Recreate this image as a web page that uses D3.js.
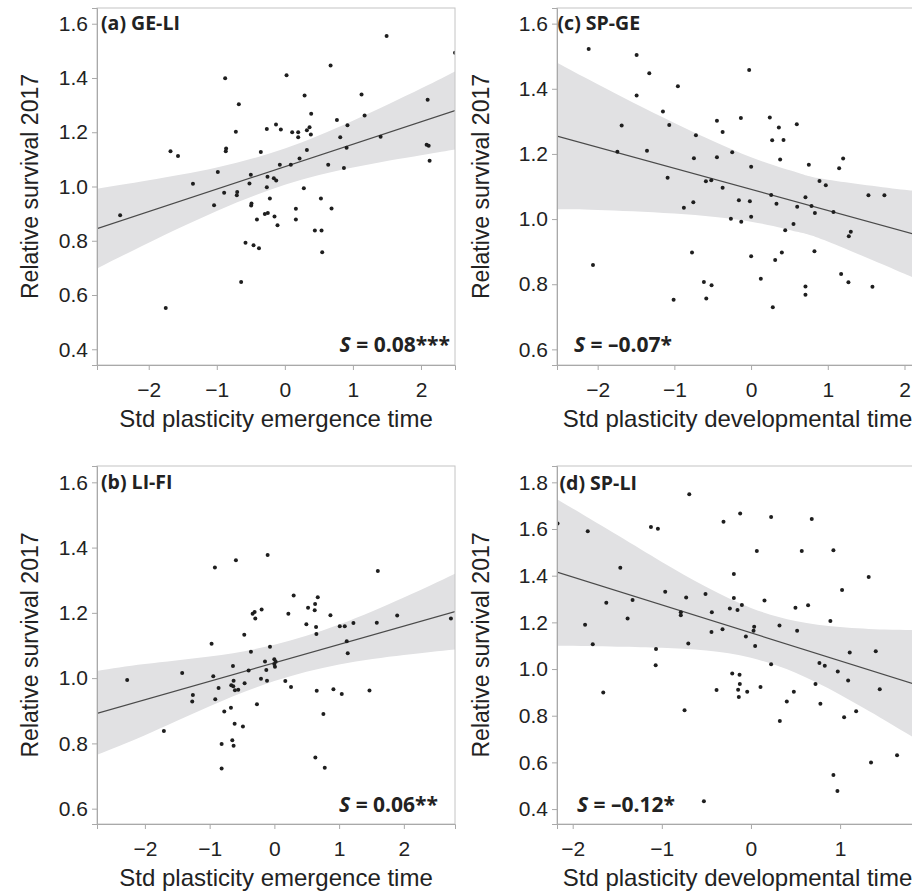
<!DOCTYPE html>
<html>
<head>
<meta charset="utf-8">
<script src="https://cdn.jsdelivr.net/npm/d3@7"></script>
<style>
  html, body { margin: 0; padding: 0; background: #ffffff; }
  svg { display: block; }
</style>
</head>
<body>
<svg id="fig" width="912" height="893"></svg>
<script>
// ---- Panel labels and selection differentials ----
const panelTitles = ["(a) GE-LI", "(b) LI-FI", "(c) SP-GE", "(d) SP-LI"];
const selectionLabels = ["0.08***", "0.06**", "\u20130.07*", "\u20130.12*"];
const xAxisTitles = [
  "Std plasticity emergence time",
  "Std plasticity emergence time",
  "Std plasticity developmental time",
  "Std plasticity developmental time"
];
const yAxisTitle = "Relative survival 2017";

// ---- Axis extents and tick values ----
const xExtentA = [-2.76, 2.50], yExtentA = [0.342, 1.658];
const xExtentB = [-2.74, 2.79], yExtentB = [0.553, 1.650];
const xExtentC = [-2.53, 2.176], yExtentC = [0.552, 1.648];
const xExtentD = [-2.176, 1.874], yExtentD = [0.336, 1.870];

const xTicksA = [-2, -1, 0, 1, 2];
const xTicksB = [-2, -1, 0, 1, 2];
const xTicksC = [-2, -1, 0, 1, 2];
const xTicksD = [-2, -1, 0, 1];
const yTicksA = [0.4, 0.6, 0.8, 1.0, 1.2, 1.4, 1.6];
const yTicksB = [0.6, 0.8, 1.0, 1.2, 1.4, 1.6];
const yTicksC = [0.6, 0.8, 1.0, 1.2, 1.4, 1.6];
const yTicksD = [0.4, 0.6, 0.8, 1.0, 1.2, 1.4, 1.6, 1.8];

// ---- Observations: [standardised plasticity, relative survival] ----
const pointsGeLi = [
  [-2.42,0.894],[-1.68,1.130],[-1.57,1.112],[-1.35,1.010],[-1.75,0.552],[-0.985,1.053],
  [-1.04,0.931],[-0.877,1.399],[-0.863,1.140],[-0.868,1.130],[-0.892,0.977],[-0.676,1.303],
  [-0.72,1.202],[-0.70,0.980],[-0.706,0.968],[-0.642,0.648],[-0.578,0.793],[-0.46,0.783],
  [-0.38,0.772],[-0.50,1.043],[-0.52,1.011],[-0.49,0.937],[-0.495,0.930],[-0.41,0.878],
  [-0.353,1.127],[-0.265,1.212],[-0.255,1.036],[-0.265,0.997],[-0.22,0.956],[-0.294,0.899],
  [-0.25,0.902],[-0.162,1.030],[-0.152,0.889],[-0.127,1.022],
  [1.495,1.555],[2.5,1.493],[0.672,1.446],[0.025,1.410],[0.29,1.335],[1.127,1.339],
  [1.172,1.262],[2.098,1.320],[0.387,1.268],[-0.13,1.229],[-0.059,1.210],[0.108,1.200],
  [0.196,1.200],[0.196,1.182],[0.324,1.207],[0.363,1.218],[0.382,1.192],[0.765,1.245],
  [0.92,1.226],[0.814,1.182],[1.407,1.183],[0.907,1.143],[0.324,1.135],[0.216,1.103],
  [0.088,1.080],[-0.074,1.080],[0.637,1.080],[0.868,1.068],[2.083,1.154],[2.113,1.150],
  [2.127,1.095],[0.279,0.994],[0.53,0.956],[0.162,0.918],[0.162,0.878],[0.686,0.919],
  [-0.108,0.857],[0.441,0.838],[0.539,0.838],[0.549,0.758]
];
const pointsLiFi = [
  [-2.274,0.994],[-1.707,0.838],[-1.424,1.016],[-1.259,0.948],[-1.269,0.928],[-0.919,1.339],
  [-0.594,1.361],[-0.970,1.105],[-0.944,1.006],[-0.862,0.970],[-0.913,0.935],[-0.774,0.898],
  [-0.815,0.798],[-0.815,0.723],[-0.640,1.037],[-0.630,0.992],[-0.666,0.978],[-0.635,0.975],
  [-0.609,0.963],[-0.558,0.964],[-0.671,0.909],[-0.614,0.860],[-0.650,0.810],[-0.630,0.793],
  [-0.486,0.852],[-0.465,1.133],[-0.460,0.984],[-0.398,1.023],[-0.362,1.081],[-0.336,1.197],
  [-0.305,1.203],[-0.295,1.183],[-0.197,1.210],[-0.269,0.920],[-0.207,0.998],[-0.145,1.051],
  [-0.125,1.025],[-0.114,0.992],[-0.104,1.377],[-0.068,1.096],
  [-0.001,1.058],[0.020,1.050],[-0.001,1.043],[0.009,1.035],[0.298,1.253],[0.216,1.197],
  [0.520,1.216],[0.629,1.227],[0.623,1.208],[0.670,1.248],[0.494,1.165],[0.644,1.157],
  [0.649,1.135],[0.866,1.193],[1.010,1.159],[1.087,1.159],[1.221,1.169],[1.118,1.113],
  [1.133,1.076],[1.598,1.328],[1.582,1.170],[1.897,1.192],[2.727,1.183],[0.169,0.991],
  [0.257,0.973],[0.654,0.961],[0.912,0.966],[1.041,0.951],[1.469,0.962],[0.757,0.890],
  [0.633,0.757],[0.778,0.725]
];
const pointsSpGe = [
  [-2.117,1.522],[-1.492,1.504],[-1.327,1.448],[-1.492,1.379],[-0.954,1.408],[-1.149,1.330],
  [-1.067,1.289],[-1.687,1.287],[-1.743,1.207],[-1.357,1.210],[-0.719,1.257],[-0.445,1.302],
  [-0.371,1.267],[-0.745,1.187],[-0.445,1.190],[-1.088,1.127],[-0.589,1.116],[-0.519,1.119],
  [-0.371,1.096],[-0.876,1.035],[-0.753,1.052],[-0.770,0.897],[-2.061,0.859],[-1.010,0.752],
  [-0.615,0.807],[-0.515,0.797],[-0.584,0.756],
  [-0.025,1.458],[-0.133,1.310],[0.244,1.312],[0.362,1.281],[0.596,1.291],[0.275,1.242],
  [0.423,1.243],[-0.246,1.205],[0.379,1.183],[0.001,1.161],[0.753,1.167],[1.200,1.186],
  [1.148,1.156],[0.892,1.117],[0.974,1.104],[1.530,1.073],[1.738,1.073],[0.262,1.074],
  [0.709,1.067],[-0.159,1.058],[-0.016,1.055],[0.331,1.047],[0.601,1.038],[0.788,1.040],
  [0.832,1.019],[1.074,1.022],[-0.263,1.001],[-0.128,0.992],[0.001,1.007],[0.553,0.985],
  [0.445,0.966],[1.300,0.961],[1.274,0.947],[0.001,0.886],[0.401,0.897],[0.314,0.874],
  [0.826,0.901],[0.127,0.817],[1.174,0.831],[1.269,0.806],[0.709,0.793],[0.709,0.768],
  [1.582,0.792],[0.283,0.729]
];
const pointsSpLi = [
  [-2.17,1.624],[-1.831,1.590],[-0.692,1.749],[-1.122,1.609],[-1.044,1.601],[-0.308,1.631],
  [-1.466,1.434],[-0.962,1.331],[-1.328,1.296],[-1.623,1.284],[-0.727,1.306],[-0.510,1.321],
  [-0.787,1.243],[-0.787,1.230],[-0.439,1.243],[-1.384,1.217],[-1.861,1.190],[-0.443,1.159],
  [-0.319,1.171],[-1.775,1.106],[-1.065,1.086],[-0.703,1.109],[-1.069,1.016],[-1.657,0.899],
  [-0.386,0.910],[-0.745,0.823],[-0.528,0.434],
  [-0.121,1.667],[0.226,1.651],[0.682,1.643],[0.066,1.506],[0.570,1.506],[0.925,1.509],
  [-0.192,1.407],[1.321,1.394],[1.022,1.339],[0.152,1.294],[-0.192,1.304],[-0.237,1.259],
  [-0.151,1.253],[-0.102,1.274],[0.499,1.263],[0.641,1.273],[0.891,1.206],[0.320,1.187],
  [0.036,1.181],[0.029,1.164],[0.518,1.164],[-0.057,1.139],[0.047,1.099],[1.108,1.071],
  [1.400,1.076],[0.226,1.021],[0.768,1.026],[0.828,1.014],[0.974,0.989],[1.090,0.951],
  [0.724,0.936],[1.445,0.913],[-0.210,0.981],[-0.128,0.976],[-0.125,0.936],[-0.144,0.911],
  [-0.042,0.903],[0.107,0.923],[-0.136,0.880],[0.481,0.903],[0.402,0.861],[0.779,0.851],
  [1.045,0.793],[1.180,0.819],[0.324,0.777],[1.639,0.631],[1.347,0.600],[0.925,0.546],
  [0.970,0.477]
];

// ---- Fitted linear regressions: [intercept, slope] ----
const fitGeLi = [1.073, 0.0827];
const fitLiFi = [1.0465, 0.0564];
const fitSpGe = [1.091, -0.0648];
const fitSpLi = [1.155, -0.1198];

// ---- 95% confidence band of each fit: [x, lower, upper] ----
const bandGeLi = [
  [-2.76,0.698,0.992],[-2.0,0.793,1.023],[-1.0,0.910,1.070],[0.0,1.006,1.140],
  [1.0,1.070,1.242],[2.0,1.115,1.361],[2.5,1.136,1.424]
];
const bandLiFi = [
  [-2.74,0.765,1.022],[-2.0,0.825,1.043],[-1.0,0.914,1.066],[0.0,0.991,1.102],
  [1.0,1.042,1.164],[2.0,1.071,1.247],[2.79,1.088,1.320]
];
const bandSpGe = [
  [-2.53,1.030,1.480],[-2.0,1.028,1.414],[-1.0,1.017,1.295],[0.0,0.992,1.190],
  [0.6,0.961,1.143],[1.0,0.931,1.121],[2.0,0.832,1.090],[2.18,0.812,1.088]
];
const bandSpLi = [
  [-2.176,1.100,1.728],[-1.5,1.096,1.574],[-1.0,1.091,1.459],[-0.5,1.079,1.351],
  [0.0,1.048,1.262],[0.5,0.984,1.206],[1.0,0.890,1.180],[1.5,0.781,1.169],[1.874,0.695,1.167]
];

// ---- Assemble the four panels ----
const panels = [
  { title: panelTitles[0], s: selectionLabels[0], xTitle: xAxisTitles[0], pts: pointsGeLi, fit: fitGeLi, band: bandGeLi,
    xExt: xExtentA, yExt: yExtentA, xTicks: xTicksA, yTicks: yTicksA,
    box: { l: 97, t: 8, r: 455, b: 365 }, titlePos: [4, 22], sAlign: "end", sPos: [-5, -13], yTitleX: 38 },
  { title: panelTitles[1], s: selectionLabels[1], xTitle: xAxisTitles[1], pts: pointsLiFi, fit: fitLiFi, band: bandLiFi,
    xExt: xExtentB, yExt: yExtentB, xTicks: xTicksB, yTicks: yTicksB,
    box: { l: 97, t: 466, r: 455, b: 824 }, titlePos: [4, 23], sAlign: "end", sPos: [-17, -12], yTitleX: 38 },
  { title: panelTitles[2], s: selectionLabels[2], xTitle: xAxisTitles[2], pts: pointsSpGe, fit: fitSpGe, band: bandSpGe,
    xExt: xExtentC, yExt: yExtentC, xTicks: xTicksC, yTicks: yTicksC,
    box: { l: 557, t: 8, r: 918, b: 365 }, titlePos: [0.5, 22], sAlign: "start", sPos: [17, -13], yTitleX: 489 },
  { title: panelTitles[3], s: selectionLabels[3], xTitle: xAxisTitles[3], pts: pointsSpLi, fit: fitSpLi, band: bandSpLi,
    xExt: xExtentD, yExt: yExtentD, xTicks: xTicksD, yTicks: yTicksD,
    box: { l: 557, t: 466, r: 918, b: 824 }, titlePos: [2.5, 24], sAlign: "start", sPos: [20, -12], yTitleX: 489 }
];

const svg = d3.select("#fig");
const axisGrey = "#a9a9a9";
const inkColour = "#1e1e1e";
const tickFont = "'Liberation Sans', Arial, sans-serif";
const boldFont = "'Open Sans', 'Noto Sans', sans-serif";

panels.forEach((p, i) => {
  const { l, t, r, b } = p.box;
  const x = d3.scaleLinear().domain(p.xExt).range([l, r]);
  const y = d3.scaleLinear().domain(p.yExt).range([b, t]);
  const g = svg.append("g").attr("class", "panel");

  const clipId = "clip" + i;
  svg.append("clipPath").attr("id", clipId)
    .append("rect").attr("x", l).attr("y", t).attr("width", r - l).attr("height", b - t);
  const inner = g.append("g").attr("clip-path", `url(#${clipId})`);

  // confidence ribbon
  inner.append("path")
    .datum(p.band)
    .attr("fill", "#e1e1e3")
    .attr("d", d3.area()
      .x(d => x(d[0]))
      .y0(d => y(d[1]))
      .y1(d => y(d[2]))
      .curve(d3.curveNatural));

  // regression line across the axis range
  const [b0, b1] = p.fit;
  inner.append("path")
    .datum(p.xExt.map(v => [v, b0 + b1 * v]))
    .attr("fill", "none")
    .attr("stroke", "#4a4a4a")
    .attr("stroke-width", 1.2)
    .attr("d", d3.line().x(d => x(d[0])).y(d => y(d[1])));

  // observations
  inner.selectAll("circle")
    .data(p.pts)
    .join("circle")
    .attr("cx", d => x(d[0]))
    .attr("cy", d => y(d[1]))
    .attr("r", 2)
    .attr("fill", inkColour);

  // panel frame
  g.append("rect")
    .attr("x", l).attr("y", t).attr("width", r - l).attr("height", b - t)
    .attr("fill", "none").attr("stroke", "#c4c4c4").attr("stroke-width", 1);

  // axes
  const yAxis = g.append("g").attr("transform", `translate(${l},0)`)
    .call(d3.axisLeft(y).tickValues(p.yTicks).tickFormat(d3.format(".1f")).tickSize(5).tickPadding(4));
  const xAxis = g.append("g").attr("transform", `translate(0,${b})`)
    .call(d3.axisBottom(x).tickValues(p.xTicks).tickFormat(d3.format("d")).tickSize(5).tickPadding(12));
  [xAxis, yAxis].forEach(ax => {
    ax.select(".domain").attr("stroke", axisGrey);
    ax.selectAll(".tick line").attr("stroke", axisGrey);
    ax.selectAll(".tick text")
      .attr("fill", "#222")
      .style("font-family", tickFont)
      .style("font-size", "21px");
  });

  // panel title
  g.append("text")
    .attr("x", l + p.titlePos[0]).attr("y", t + p.titlePos[1])
    .style("font-family", boldFont).style("font-weight", "700").style("font-size", "19.5px")
    .attr("fill", "#222")
    .text(p.title);

  // selection differential
  const sText = g.append("text")
    .attr("x", (p.sAlign === "end" ? r : l) + p.sPos[0])
    .attr("y", b + p.sPos[1])
    .attr("text-anchor", p.sAlign)
    .style("font-family", boldFont).style("font-weight", "700").style("font-size", "21px")
    .attr("fill", "#222");
  sText.append("tspan").style("font-style", "italic").text("S");
  sText.append("tspan").text(" = " + p.s);

  // axis titles
  g.append("text")
    .attr("x", (l + r) / 2).attr("y", b + 62)
    .attr("text-anchor", "middle")
    .style("font-family", tickFont).style("font-size", "24px")
    .attr("fill", "#222")
    .text(p.xTitle);
  g.append("text")
    .attr("transform", `translate(${p.yTitleX},${(t + b) / 2}) rotate(-90)`)
    .attr("text-anchor", "middle")
    .style("font-family", tickFont).style("font-size", "23px")
    .attr("fill", "#222")
    .text(yAxisTitle);
});
</script>
</body>
</html>
